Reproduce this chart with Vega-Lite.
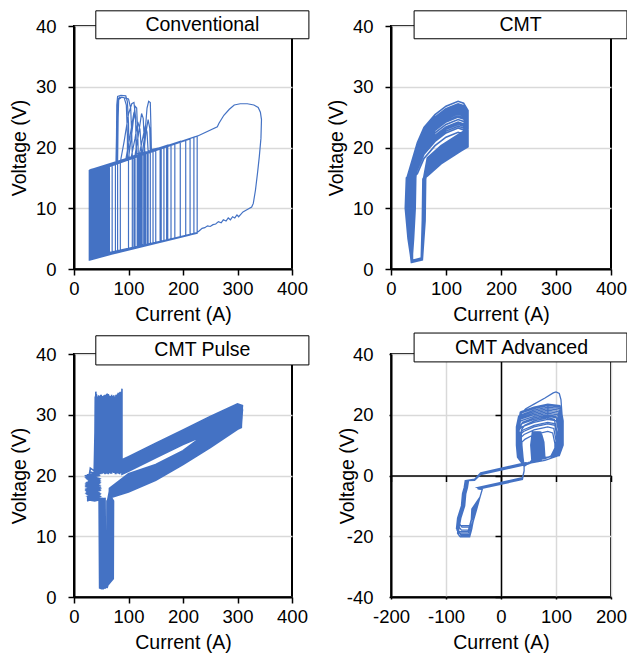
{
"$schema": "https://vega.github.io/schema/vega-lite/v6.json",
"background": "white",
"padding": {"left": 8, "top": 9, "right": 0, "bottom": 0},
"config": {
  "view": {"stroke": "black", "strokeWidth": 2},
  "axis": {"labelFont": "Liberation Sans", "labelFontSize": 18.5, "labelColor": "black", "titleFont": "Liberation Sans", "titleFontSize": 19.5, "titleFontWeight": "normal", "titleColor": "black", "domainColor": "black", "domainWidth": 2, "tickColor": "black", "tickWidth": 1.5, "tickSize": 6, "gridColor": "#d9d9d9", "gridWidth": 1.5, "labelFlush": false},
  "axisX": {"labelPadding": 4.5, "titlePadding": 7},
  "axisY": {"labelPadding": 12, "titlePadding": 6}
},
"datasets": {
"conventional": [
{"I":30,"V":1.8},{"I":30,"V":16.0},{"I":36,"V":16.2},{"I":36,"V":1.9},
{"I":28,"V":1.6},{"I":28,"V":15.9},{"I":33,"V":16.0},{"I":33,"V":1.7},
{"I":30,"V":1.7},{"I":30,"V":16.0},{"I":34,"V":16.1},{"I":34,"V":1.8},
{"I":30,"V":2.1},{"I":30,"V":16.3},{"I":35,"V":16.4},{"I":35,"V":1.8},
{"I":29,"V":1.6},{"I":29,"V":15.8},{"I":40,"V":16.1},{"I":40,"V":2.0},
{"I":29,"V":1.5},{"I":29,"V":15.6},{"I":37,"V":15.9},{"I":37,"V":1.9},
{"I":29,"V":1.9},{"I":29,"V":15.9},{"I":38,"V":16.0},{"I":38,"V":1.9},
{"I":31,"V":1.8},{"I":31,"V":16.0},{"I":39,"V":16.2},{"I":39,"V":2.0},
{"I":31,"V":2.0},{"I":31,"V":16.2},{"I":43,"V":16.4},{"I":43,"V":2.1},
{"I":28,"V":2.0},{"I":28,"V":16.2},{"I":42,"V":16.5},{"I":42,"V":2.1},
{"I":31,"V":1.6},{"I":31,"V":16.2},{"I":41,"V":16.4},{"I":41,"V":2.0},
{"I":30,"V":1.6},{"I":30,"V":15.7},{"I":44,"V":16.1},{"I":44,"V":2.1},
{"I":28,"V":1.5},{"I":28,"V":15.7},{"I":46,"V":16.3},{"I":46,"V":2.1},
{"I":30,"V":2.0},{"I":30,"V":15.8},{"I":45,"V":16.2},{"I":45,"V":2.1},
{"I":29,"V":1.8},{"I":29,"V":16.1},{"I":47,"V":16.6},{"I":47,"V":2.2},
{"I":30,"V":1.8},{"I":30,"V":16.1},{"I":77,"V":17.4},{"I":78,"V":22},{"I":78.5,"V":27},{"I":80,"V":28.4},{"I":86,"V":28.6},{"I":95,"V":28.5},{"I":98,"V":27.5},{"I":100,"V":24},{"I":101,"V":18.2},{"I":118,"V":18.7},{"I":118,"V":3.7},
{"I":30,"V":1.9},{"I":30,"V":16.3},{"I":49,"V":16.7},{"I":49,"V":2.2},
{"I":31,"V":1.5},{"I":31,"V":15.9},{"I":50,"V":16.5},{"I":50,"V":2.2},
{"I":28,"V":1.8},{"I":28,"V":16.0},{"I":48,"V":16.5},{"I":48,"V":2.2},
{"I":29,"V":1.7},{"I":29,"V":15.9},{"I":52,"V":16.5},{"I":52,"V":2.3},
{"I":28,"V":1.9},{"I":28,"V":16.0},{"I":53,"V":16.7},{"I":53,"V":2.3},
{"I":30,"V":1.5},{"I":30,"V":16.3},{"I":51,"V":16.8},{"I":51,"V":2.2},
{"I":32,"V":2.1},{"I":32,"V":16.1},{"I":55,"V":16.8},{"I":55,"V":2.3},
{"I":29,"V":1.7},{"I":29,"V":15.7},{"I":54,"V":16.4},{"I":54,"V":2.3},
{"I":30,"V":1.7},{"I":30,"V":16.2},{"I":56,"V":16.9},{"I":56,"V":2.4},
{"I":30,"V":1.6},{"I":30,"V":16.0},{"I":58,"V":16.9},{"I":58,"V":2.4},
{"I":31,"V":1.9},{"I":31,"V":16.1},{"I":57,"V":16.9},{"I":57,"V":2.4},
{"I":29,"V":2.0},{"I":29,"V":15.8},{"I":59,"V":16.7},{"I":59,"V":2.4},
{"I":28,"V":1.8},{"I":28,"V":15.6},{"I":61,"V":16.6},{"I":61,"V":2.5},
{"I":32,"V":1.6},{"I":32,"V":16.1},{"I":63,"V":17.0},{"I":63,"V":2.5},
{"I":29,"V":1.7},{"I":29,"V":15.9},{"I":80,"V":17.4},{"I":81,"V":25},{"I":82,"V":27.9},{"I":88,"V":28.3},{"I":100,"V":28.0},{"I":104,"V":26.5},{"I":106,"V":22},{"I":107,"V":18.4},{"I":125,"V":18.9},{"I":125,"V":3.8},
{"I":31,"V":1.7},{"I":31,"V":16.4},{"I":65,"V":17.2},{"I":65,"V":2.5},
{"I":29,"V":2.0},{"I":29,"V":15.9},{"I":70,"V":17.1},{"I":70,"V":2.6},
{"I":31,"V":2.0},{"I":31,"V":16.0},{"I":85,"V":17.6},{"I":92,"V":21},{"I":100,"V":25.5},{"I":106,"V":27.2},{"I":110,"V":27.4},{"I":113,"V":25},{"I":114,"V":20},{"I":114,"V":18.6},{"I":130,"V":19.1},{"I":130,"V":3.9},
{"I":30,"V":1.5},{"I":30,"V":16.2},{"I":76,"V":17.5},{"I":76,"V":2.8},
{"I":33,"V":1.9},{"I":33,"V":16.0},{"I":80,"V":17.4},{"I":80,"V":2.9},
{"I":30,"V":1.6},{"I":30,"V":16.2},{"I":95,"V":18.0},{"I":103,"V":22},{"I":110,"V":25.8},{"I":113,"V":24.5},{"I":115,"V":19},{"I":135,"V":19.3},{"I":135,"V":4.0},
{"I":29,"V":1.6},{"I":29,"V":15.8},{"I":85,"V":17.6},{"I":85,"V":3.0},
{"I":30,"V":1.8},{"I":30,"V":16.1},{"I":100,"V":18.2},{"I":100,"V":3.3},
{"I":28,"V":1.9},{"I":28,"V":15.8},{"I":125,"V":19.0},{"I":130,"V":22},{"I":134,"V":26.5},{"I":137,"V":27.6},{"I":140,"V":27.4},{"I":141,"V":24},{"I":142,"V":19.5},{"I":150,"V":19.7},{"I":150,"V":4.3},
{"I":28,"V":1.7},{"I":28,"V":15.9},{"I":107,"V":18.4},{"I":107,"V":3.4},
{"I":31,"V":2.2},{"I":31,"V":16.3},{"I":112,"V":18.6},{"I":112,"V":3.5},
{"I":30,"V":1.7},{"I":30,"V":16.0},{"I":112,"V":18.7},{"I":118,"V":22},{"I":124,"V":25.6},{"I":127,"V":24.8},{"I":129,"V":21},{"I":130,"V":19.0},{"I":145,"V":19.5},{"I":145,"V":4.2},
{"I":30,"V":1.6},{"I":30,"V":16.0},{"I":116,"V":18.5},{"I":116,"V":3.6},
{"I":29,"V":1.9},{"I":29,"V":15.7},{"I":120,"V":18.8},{"I":120,"V":3.7},
{"I":31,"V":1.8},{"I":31,"V":16.1},{"I":100,"V":18.2},{"I":107,"V":23},{"I":112,"V":26.8},{"I":115,"V":26.5},{"I":117,"V":22},{"I":118,"V":18.8},{"I":122,"V":18.9},{"I":122,"V":3.7},
{"I":32,"V":1.8},{"I":32,"V":16.2},{"I":124,"V":18.9},{"I":124,"V":3.8},
{"I":30,"V":1.5},{"I":30,"V":16.0},{"I":128,"V":19.0},{"I":128,"V":3.9},
{"I":29,"V":1.6},{"I":29,"V":15.9},{"I":120,"V":18.9},{"I":126,"V":21.5},{"I":131,"V":23.6},{"I":134,"V":22.5},{"I":136,"V":19.4},{"I":160,"V":19.9},{"I":160,"V":4.5},
{"I":28,"V":2.0},{"I":28,"V":15.8},{"I":132,"V":19.1},{"I":132,"V":4.0},
{"I":31,"V":1.7},{"I":31,"V":16.1},{"I":136,"V":19.3},{"I":136,"V":4.0},
{"I":30,"V":1.9},{"I":30,"V":16.2},{"I":105,"V":18.4},{"I":112,"V":21.5},{"I":117,"V":24.2},{"I":121,"V":23.0},{"I":124,"V":19.2},{"I":128,"V":19.0},{"I":128,"V":3.9},
{"I":30,"V":1.8},{"I":30,"V":15.9},{"I":140,"V":19.3},{"I":140,"V":4.1},
{"I":29,"V":1.6},{"I":29,"V":16.3},{"I":150,"V":19.7},{"I":150,"V":4.3},
{"I":30,"V":1.8},{"I":30,"V":16.0},{"I":128,"V":19.0},{"I":132,"V":22.5},{"I":136,"V":24.6},{"I":139,"V":23.2},{"I":140,"V":19.6},{"I":170,"V":20.2},{"I":170,"V":4.7},
{"I":30,"V":2.1},{"I":30,"V":16.0},{"I":158,"V":19.9},{"I":158,"V":4.5},
{"I":32,"V":1.7},{"I":32,"V":15.8},{"I":165,"V":20.0},{"I":165,"V":4.6},
{"I":29,"V":1.7},{"I":29,"V":15.8},{"I":79,"V":17.5},{"I":80,"V":24},{"I":81,"V":28.0},{"I":84,"V":28.3},{"I":92,"V":28.2},{"I":96,"V":27},{"I":98,"V":22},{"I":98,"V":18.1},{"I":110,"V":18.5},{"I":110,"V":3.4},
{"I":29,"V":1.9},{"I":29,"V":16.2},{"I":172,"V":20.4},{"I":172,"V":4.8},
{"I":30,"V":1.6},{"I":30,"V":16.0},{"I":178,"V":20.5},{"I":178,"V":4.9},
{"I":30,"V":1.8},{"I":30,"V":16.0},{"I":227,"V":21.9},{"I":263,"V":23.4},{"I":266,"V":24.0},{"I":275,"V":25.3},{"I":285,"V":26.3},{"I":294,"V":27.0},{"I":305,"V":27.2},{"I":318,"V":27.2},{"I":330,"V":27.0},{"I":338,"V":26.6},{"I":342,"V":25.8},{"I":344,"V":24.6},{"I":343,"V":21.5},{"I":340,"V":18.5},{"I":337,"V":16},{"I":333,"V":13},{"I":329,"V":10.8},{"I":326,"V":10.2},{"I":318,"V":9.8},{"I":310,"V":9.4},{"I":306,"V":9.0},{"I":302,"V":8.6},{"I":299,"V":8.9},{"I":295,"V":8.4},{"I":291,"V":8.6},{"I":287,"V":8.1},{"I":283,"V":8.4},{"I":279,"V":7.9},{"I":274,"V":8.1},{"I":270,"V":7.6},{"I":265,"V":7.8},{"I":260,"V":7.4},{"I":255,"V":7.3},{"I":250,"V":7.0},{"I":245,"V":7.1},{"I":240,"V":6.8},{"I":235,"V":6.7},{"I":230,"V":6.3},{"I":226,"V":6.0},
{"I":31,"V":1.8},{"I":31,"V":15.9},{"I":185,"V":20.6},{"I":185,"V":5.1},
{"I":28,"V":2.0},{"I":28,"V":16.1},{"I":195,"V":21.0},{"I":195,"V":5.3},
{"I":30,"V":1.7},{"I":30,"V":16.2},{"I":205,"V":21.2},{"I":205,"V":5.5},
{"I":29,"V":1.8},{"I":29,"V":15.8},{"I":213,"V":21.4},{"I":213,"V":5.6},
{"I":31,"V":1.6},{"I":31,"V":16.0},{"I":220,"V":21.7},{"I":220,"V":5.8},
{"I":30,"V":1.9},{"I":30,"V":16.1},{"I":226,"V":21.9},{"I":226,"V":5.9},
{"I":30,"V":1.8}
],
"cmt": [
{"I":38,"V":1.2},{"I":55,"V":1.6},{"I":57,"V":8},{"I":58,"V":14.8},{"I":66,"V":15.3},{"I":91,"V":17.3},{"I":127,"V":19.4},{"I":140,"V":20.1},{"I":140,"V":22.5},{"I":132,"V":23.7},{"I":122,"V":24.0},{"I":100,"V":23.2},{"I":80,"V":21.8},{"I":60,"V":19.7},{"I":48,"V":17.2},{"I":32,"V":15},{"I":30,"V":10},{"I":34,"V":5},
{"I":37,"V":1.1},{"I":56,"V":1.5},{"I":58,"V":8},{"I":59,"V":14.8},{"I":66,"V":15.6},{"I":91,"V":17.6},{"I":127,"V":19.7},{"I":140,"V":20.4},{"I":140,"V":26.1},{"I":132,"V":27.3},{"I":122,"V":27.6},{"I":100,"V":26.8},{"I":80,"V":25.4},{"I":60,"V":23.3},{"I":48,"V":20.8},{"I":29,"V":15},{"I":27,"V":10},{"I":32,"V":5},
{"I":39,"V":1.3},{"I":57,"V":1.7},{"I":59,"V":8},{"I":60,"V":14.8},{"I":66,"V":15.9},{"I":91,"V":17.9},{"I":127,"V":20.0},{"I":140,"V":20.7},{"I":140,"V":24.0},{"I":132,"V":25.2},{"I":122,"V":25.5},{"I":100,"V":24.7},{"I":80,"V":23.3},{"I":60,"V":21.2},{"I":48,"V":18.7},{"I":35,"V":15},{"I":33,"V":10},{"I":36,"V":5},
{"I":38,"V":1.4},{"I":55,"V":1.8},{"I":60,"V":8},{"I":61,"V":14.8},{"I":66,"V":16.3},{"I":91,"V":18.3},{"I":127,"V":20.4},{"I":140,"V":21.1},{"I":140,"V":25.3},{"I":132,"V":26.5},{"I":122,"V":26.8},{"I":100,"V":26.0},{"I":80,"V":24.6},{"I":60,"V":22.5},{"I":48,"V":20.0},{"I":38,"V":15},{"I":36,"V":10},{"I":37,"V":5},
{"I":37,"V":1.2},{"I":56,"V":1.6},{"I":61,"V":8},{"I":62,"V":14.8},{"I":66,"V":16.6},{"I":91,"V":18.6},{"I":127,"V":20.7},{"I":140,"V":21.4},{"I":140,"V":22.0},{"I":132,"V":22.9},{"I":122,"V":23.2},{"I":100,"V":22.4},{"I":80,"V":21.0},{"I":60,"V":18.9},{"I":48,"V":16.4},{"I":41,"V":15},{"I":39,"V":10},{"I":38,"V":5},
{"I":39,"V":1.1},{"I":57,"V":1.5},{"I":62,"V":8},{"I":63,"V":14.8},{"I":66,"V":16.9},{"I":91,"V":18.9},{"I":127,"V":21.0},{"I":140,"V":21.7},{"I":140,"V":24.5},{"I":132,"V":25.7},{"I":122,"V":26.0},{"I":100,"V":25.2},{"I":80,"V":23.8},{"I":60,"V":21.7},{"I":48,"V":19.2},{"I":44,"V":15},{"I":42,"V":10},{"I":40,"V":5},
{"I":38,"V":1.3},{"I":55,"V":1.7},{"I":58,"V":8},{"I":59,"V":14.8},{"I":66,"V":17.3},{"I":91,"V":19.3},{"I":127,"V":21.4},{"I":140,"V":22.1},{"I":140,"V":25.7},{"I":132,"V":26.9},{"I":122,"V":27.2},{"I":100,"V":26.4},{"I":80,"V":25.0},{"I":60,"V":22.9},{"I":48,"V":20.4},{"I":31,"V":15},{"I":29,"V":10},{"I":33,"V":5},
{"I":37,"V":1.4},{"I":56,"V":1.8},{"I":60,"V":8},{"I":61,"V":14.8},{"I":66,"V":17.6},{"I":91,"V":19.6},{"I":127,"V":21.7},{"I":140,"V":22.4},{"I":140,"V":23.5},{"I":132,"V":24.7},{"I":122,"V":25.0},{"I":100,"V":24.2},{"I":80,"V":22.8},{"I":60,"V":20.7},{"I":48,"V":18.2},{"I":33,"V":15},{"I":31,"V":10},{"I":35,"V":5},
{"I":39,"V":1.2},{"I":57,"V":1.6},{"I":59,"V":8},{"I":60,"V":14.8},{"I":66,"V":15.5},{"I":91,"V":17.5},{"I":127,"V":19.6},{"I":140,"V":20.3},{"I":140,"V":22.3},{"I":132,"V":23.5},{"I":122,"V":23.8},{"I":100,"V":23.0},{"I":80,"V":21.6},{"I":60,"V":19.5},{"I":48,"V":17.0},{"I":37,"V":15},{"I":35,"V":10},{"I":37,"V":5},
{"I":38,"V":1.1},{"I":55,"V":1.5},{"I":61,"V":8},{"I":62,"V":14.8},{"I":66,"V":16.1},{"I":91,"V":18.1},{"I":127,"V":20.2},{"I":140,"V":20.9},{"I":140,"V":24.9},{"I":132,"V":26.1},{"I":122,"V":26.4},{"I":100,"V":25.6},{"I":80,"V":24.2},{"I":60,"V":22.1},{"I":48,"V":19.6},{"I":40,"V":15},{"I":38,"V":10},{"I":38,"V":5},
{"I":37,"V":1.3},{"I":56,"V":1.7},{"I":57,"V":8},{"I":58,"V":14.8},{"I":66,"V":16.4},{"I":91,"V":18.4},{"I":127,"V":20.5},{"I":140,"V":21.2},{"I":140,"V":23.1},{"I":132,"V":24.3},{"I":122,"V":24.6},{"I":100,"V":23.8},{"I":80,"V":22.4},{"I":60,"V":20.3},{"I":48,"V":17.8},{"I":43,"V":15},{"I":41,"V":10},{"I":39,"V":5},
{"I":39,"V":1.4},{"I":57,"V":1.8},{"I":62,"V":8},{"I":63,"V":14.8},{"I":66,"V":17.1},{"I":91,"V":19.1},{"I":127,"V":21.2},{"I":140,"V":21.9},{"I":140,"V":24.3},{"I":132,"V":25.5},{"I":122,"V":25.8},{"I":100,"V":25.0},{"I":80,"V":23.6},{"I":60,"V":21.5},{"I":48,"V":19.0},{"I":45,"V":15},{"I":44,"V":10},{"I":41,"V":5},
{"I":38,"V":1.2},{"I":55,"V":1.6},{"I":60,"V":8},{"I":61,"V":14.8},{"I":66,"V":17.9},{"I":91,"V":19.9},{"I":127,"V":22.0},{"I":140,"V":22.7},{"I":140,"V":25.5},{"I":132,"V":26.7},{"I":122,"V":27.0},{"I":100,"V":26.2},{"I":80,"V":24.8},{"I":60,"V":22.7},{"I":48,"V":20.2},{"I":30,"V":15},{"I":28,"V":10},{"I":32,"V":5},
{"I":37,"V":1.1},{"I":56,"V":1.5},{"I":58,"V":8},{"I":59,"V":14.8},{"I":66,"V":18.3},{"I":91,"V":20.3},{"I":127,"V":22.4},{"I":140,"V":23.1},{"I":140,"V":25.1},{"I":132,"V":26.3},{"I":122,"V":26.6},{"I":100,"V":25.8},{"I":80,"V":24.4},{"I":60,"V":22.3},{"I":48,"V":19.8},{"I":34,"V":15},{"I":32,"V":10},{"I":35,"V":5},
{"I":39,"V":1.3},{"I":57,"V":1.7},{"I":59,"V":8},{"I":60,"V":14.8},{"I":66,"V":15.7},{"I":91,"V":17.7},{"I":127,"V":19.8},{"I":140,"V":20.5},{"I":140,"V":21.1},{"I":132,"V":22.2},{"I":122,"V":22.5},{"I":100,"V":21.7},{"I":80,"V":20.3},{"I":60,"V":18.2},{"I":48,"V":15.7},{"I":36,"V":14.5},{"I":34,"V":10},{"I":36,"V":5},
{"I":38,"V":1.4},{"I":55,"V":1.8},{"I":61,"V":8},{"I":62,"V":14.8},{"I":66,"V":16.8},{"I":91,"V":18.8},{"I":127,"V":20.9},{"I":140,"V":21.6},{"I":140,"V":22.7},{"I":132,"V":23.9},{"I":122,"V":24.2},{"I":100,"V":23.4},{"I":80,"V":22.0},{"I":60,"V":19.9},{"I":48,"V":17.4},{"I":39,"V":15},{"I":37,"V":10},{"I":37,"V":5},
{"I":37,"V":1.2},{"I":56,"V":1.6},{"I":60,"V":8},{"I":61,"V":14.8},{"I":66,"V":17.5},{"I":91,"V":19.5},{"I":127,"V":21.6},{"I":140,"V":22.3},{"I":140,"V":24.7},{"I":132,"V":25.9},{"I":122,"V":26.2},{"I":100,"V":25.4},{"I":80,"V":24.0},{"I":60,"V":21.9},{"I":48,"V":19.4},{"I":42,"V":15},{"I":40,"V":10},{"I":39,"V":5},
{"I":39,"V":1.1},{"I":57,"V":1.5},{"I":58,"V":8},{"I":59,"V":14.8},{"I":66,"V":15.4},{"I":91,"V":17.4},{"I":127,"V":19.5},{"I":140,"V":20.2},{"I":140,"V":23.7},{"I":132,"V":24.9},{"I":122,"V":25.2},{"I":100,"V":24.4},{"I":80,"V":23.0},{"I":60,"V":20.9},{"I":48,"V":18.4},{"I":45,"V":15},{"I":43,"V":10},{"I":40,"V":5},
{"I":38,"V":1.3},{"I":55,"V":1.7},{"I":62,"V":8},{"I":63,"V":14.8},{"I":66,"V":16.2},{"I":91,"V":18.2},{"I":127,"V":20.3},{"I":140,"V":21.0},{"I":140,"V":22.0},{"I":132,"V":23.2},{"I":122,"V":23.5},{"I":100,"V":22.7},{"I":80,"V":21.3},{"I":60,"V":19.2},{"I":48,"V":16.7},{"I":28,"V":15},{"I":26,"V":10},{"I":31,"V":5},
{"I":37,"V":1.4},{"I":56,"V":1.8},{"I":59,"V":8},{"I":60,"V":14.8},{"I":66,"V":18.1},{"I":91,"V":20.1},{"I":127,"V":22.2},{"I":140,"V":22.9},{"I":140,"V":24.1},{"I":132,"V":25.3},{"I":122,"V":25.6},{"I":100,"V":24.8},{"I":80,"V":23.4},{"I":60,"V":21.3},{"I":48,"V":18.8},{"I":32,"V":15},{"I":30,"V":10},{"I":34,"V":5},
{"I":38,"V":1.2}
],
"pulse": [
{"I":47,"V":16.2},{"I":48,"V":1.6},{"I":51,"V":1.5},{"I":66,"V":2.8},{"I":66.5,"V":15.8},{"I":65,"V":16.3},{"I":100,"V":17.3},{"I":150,"V":19.2},{"I":200,"V":21.8},{"I":250,"V":24.6},{"I":300,"V":27.6},{"I":307,"V":27.9},{"I":308,"V":30.5},{"I":300,"V":30.78},{"I":250,"V":28.45},{"I":200,"V":26.39},{"I":150,"V":24.19},{"I":100,"V":21.99},{"I":88,"V":21.5},
{"I":86,"V":33.5},{"I":83,"V":20.5},{"I":79,"V":32.6},{"I":75,"V":20.8},{"I":71,"V":33.1},{"I":67,"V":20.3},{"I":62,"V":32.4},{"I":58,"V":20.9},{"I":53,"V":33.0},{"I":49,"V":20.4},{"I":44,"V":32.7},{"I":40,"V":20.6},
{"I":44,"V":20.3},{"I":26,"V":19.8},{"I":45,"V":19.2},{"I":24,"V":18.6},{"I":46,"V":18.0},{"I":25,"V":17.4},{"I":44,"V":16.8},{"I":24,"V":16.2},{"I":40,"V":16.1},
{"I":49,"V":16.2},{"I":50,"V":1.6},{"I":53,"V":1.5},{"I":70,"V":2.8},{"I":70.5,"V":15.8},{"I":65,"V":17.1},{"I":100,"V":18.91},{"I":150,"V":20.6},{"I":200,"V":23.04},{"I":250,"V":26.11},{"I":300,"V":28.78},{"I":307,"V":29.1},{"I":308,"V":29.4},{"I":300,"V":29.6},{"I":250,"V":27.0},{"I":200,"V":25.1},{"I":150,"V":22.9},{"I":100,"V":20.7},{"I":88,"V":20.2},
{"I":84,"V":32.6},{"I":81,"V":21.0},{"I":77,"V":33.3},{"I":73,"V":20.4},{"I":68,"V":32.5},{"I":64,"V":20.7},{"I":60,"V":33.4},{"I":56,"V":20.3},{"I":51,"V":32.6},{"I":47,"V":20.9},{"I":42,"V":33.0},{"I":38,"V":20.2},
{"I":45,"V":20.1},{"I":25,"V":19.5},{"I":44,"V":18.9},{"I":26,"V":18.3},{"I":45,"V":17.7},{"I":24,"V":17.1},{"I":46,"V":16.5},{"I":25,"V":16.0},{"I":38,"V":15.9},
{"I":51,"V":16.2},{"I":52,"V":1.6},{"I":55,"V":1.5},{"I":62,"V":2.8},{"I":62.5,"V":15.8},{"I":65,"V":16.7},{"I":100,"V":17.99},{"I":150,"V":19.8},{"I":200,"V":22.33},{"I":250,"V":25.25},{"I":300,"V":28.11},{"I":307,"V":28.4},{"I":308,"V":31.3},{"I":300,"V":31.46},{"I":250,"V":29.28},{"I":200,"V":27.13},{"I":150,"V":24.93},{"I":100,"V":22.73},{"I":88,"V":22.2},
{"I":88,"V":34.3},{"I":85,"V":20.8},{"I":80,"V":32.0},{"I":76,"V":20.3},{"I":72,"V":32.9},{"I":68,"V":20.6},{"I":63,"V":32.2},{"I":59,"V":20.4},{"I":55,"V":33.2},{"I":50,"V":20.7},{"I":46,"V":32.5},{"I":41,"V":20.5},
{"I":43,"V":20.4},{"I":30,"V":21.2},{"I":27,"V":19.0},{"I":46,"V":18.4},{"I":24,"V":17.8},{"I":44,"V":17.2},{"I":26,"V":16.6},{"I":45,"V":16.2},{"I":42,"V":16.3},
{"I":53,"V":16.2},{"I":54,"V":1.6},{"I":57,"V":1.5},{"I":68,"V":2.8},{"I":68.5,"V":15.8},{"I":65,"V":17.5},{"I":100,"V":19.61},{"I":150,"V":21.2},{"I":200,"V":23.57},{"I":250,"V":26.75},{"I":300,"V":29.29},{"I":307,"V":29.6},{"I":308,"V":30.1},{"I":300,"V":30.28},{"I":250,"V":27.83},{"I":200,"V":25.84},{"I":150,"V":23.64},{"I":100,"V":21.44},{"I":88,"V":20.9},
{"I":83,"V":33.0},{"I":80,"V":20.6},{"I":76,"V":32.4},{"I":72,"V":21.0},{"I":67,"V":33.1},{"I":63,"V":20.2},{"I":58,"V":32.8},{"I":54,"V":20.8},{"I":49,"V":33.3},{"I":45,"V":20.3},{"I":40,"V":32.9},{"I":37,"V":20.6},
{"I":46,"V":20.0},{"I":24,"V":19.6},{"I":44,"V":19.0},{"I":25,"V":18.4},{"I":47,"V":17.8},{"I":26,"V":17.2},{"I":45,"V":16.6},{"I":24,"V":15.8},{"I":37,"V":16.4},
{"I":55,"V":16.2},{"I":56,"V":1.6},{"I":59,"V":1.6},{"I":72,"V":3.0},{"I":72.5,"V":15.8},{"I":65,"V":16.9},{"I":100,"V":18.45},{"I":150,"V":20.2},{"I":200,"V":22.69},{"I":250,"V":25.68},{"I":300,"V":28.45},{"I":307,"V":28.8},{"I":309,"V":31.5},{"I":300,"V":31.8},{"I":250,"V":29.7},{"I":200,"V":27.5},{"I":150,"V":25.3},{"I":100,"V":23.1},{"I":88,"V":22.6},
{"I":87,"V":32.2},{"I":84,"V":20.2},{"I":80,"V":33.4},{"I":76,"V":20.7},{"I":71,"V":32.2},{"I":67,"V":20.9},{"I":63,"V":33.0},{"I":59,"V":20.5},{"I":54,"V":32.4},{"I":50,"V":20.8},{"I":45,"V":33.2},{"I":41,"V":20.3},
{"I":44,"V":20.5},{"I":27,"V":19.9},{"I":45,"V":19.3},{"I":24,"V":18.7},{"I":44,"V":18.1},{"I":25,"V":17.5},{"I":46,"V":16.9},{"I":24,"V":16.3},{"I":41,"V":16.0},
{"I":48,"V":16.2},{"I":49,"V":1.5},{"I":52,"V":1.4},{"I":64,"V":2.7},{"I":64.5,"V":15.8},{"I":65,"V":17.7},{"I":100,"V":20.07},{"I":150,"V":21.6},{"I":200,"V":23.92},{"I":250,"V":27.18},{"I":300,"V":29.63},{"I":306,"V":29.8},{"I":307,"V":29.9},{"I":300,"V":29.94},{"I":250,"V":27.42},{"I":200,"V":25.47},{"I":150,"V":23.27},{"I":100,"V":21.07},{"I":88,"V":20.6},
{"I":85,"V":33.8},{"I":82,"V":20.9},{"I":78,"V":32.6},{"I":74,"V":20.5},{"I":69,"V":33.3},{"I":65,"V":20.4},{"I":61,"V":32.7},{"I":57,"V":20.8},{"I":52,"V":33.0},{"I":48,"V":20.2},{"I":43,"V":32.6},{"I":39,"V":20.7},
{"I":45,"V":20.2},{"I":25,"V":19.7},{"I":46,"V":19.1},{"I":24,"V":18.5},{"I":45,"V":17.9},{"I":26,"V":17.3},{"I":44,"V":16.7},{"I":24,"V":16.1},{"I":39,"V":16.2},
{"I":50,"V":16.2},{"I":51,"V":1.6},{"I":54,"V":1.5},{"I":60,"V":2.6},{"I":60.5,"V":15.8},{"I":65,"V":16.4},{"I":100,"V":17.53},{"I":150,"V":19.4},{"I":200,"V":21.98},{"I":250,"V":24.82},{"I":300,"V":27.77},{"I":307,"V":28.1},{"I":309,"V":30.9},{"I":300,"V":31.12},{"I":250,"V":28.87},{"I":200,"V":26.76},{"I":150,"V":24.56},{"I":100,"V":22.36},{"I":88,"V":21.9},
{"I":82,"V":32.4},{"I":79,"V":20.4},{"I":75,"V":33.0},{"I":71,"V":20.8},{"I":66,"V":32.7},{"I":62,"V":20.3},{"I":57,"V":33.3},{"I":53,"V":20.6},{"I":48,"V":32.5},{"I":44,"V":20.9},{"I":40,"V":33.6},{"I":37,"V":20.4},
{"I":43,"V":20.0},{"I":26,"V":19.4},{"I":45,"V":18.8},{"I":24,"V":18.2},{"I":46,"V":17.6},{"I":25,"V":17.0},{"I":44,"V":16.4},{"I":26,"V":15.9},{"I":36,"V":16.5},
{"I":52,"V":16.2},{"I":53,"V":1.6},{"I":56,"V":1.5},{"I":71,"V":2.9},{"I":71.5,"V":15.8},{"I":65,"V":17.3},{"I":100,"V":19.15},{"I":150,"V":20.8},{"I":200,"V":23.21},{"I":250,"V":26.32},{"I":300,"V":28.95},{"I":307,"V":29.2},{"I":308,"V":29.6},{"I":300,"V":29.77},{"I":250,"V":27.21},{"I":200,"V":25.28},{"I":150,"V":23.08},{"I":100,"V":20.88},{"I":88,"V":20.4},
{"I":88,"V":32.9},{"I":85,"V":20.7},{"I":81,"V":33.6},{"I":77,"V":20.2},{"I":73,"V":32.4},{"I":69,"V":20.8},{"I":64,"V":33.2},{"I":60,"V":20.5},{"I":56,"V":32.8},{"I":52,"V":20.3},{"I":47,"V":33.1},{"I":43,"V":20.8},
{"I":46,"V":20.4},{"I":24,"V":20.0},{"I":44,"V":19.4},{"I":25,"V":18.8},{"I":45,"V":18.2},{"I":24,"V":17.6},{"I":46,"V":17.0},{"I":25,"V":16.5},{"I":43,"V":16.1},
{"I":54,"V":16.2},{"I":55,"V":1.6},{"I":58,"V":1.5},{"I":67,"V":2.8},{"I":67.5,"V":15.8},{"I":65,"V":17.9},{"I":100,"V":20.3},{"I":150,"V":21.8},{"I":200,"V":24.1},{"I":250,"V":27.4},{"I":300,"V":29.8},{"I":307,"V":30.1},{"I":309,"V":31.4},{"I":300,"V":31.63},{"I":250,"V":29.49},{"I":200,"V":27.32},{"I":150,"V":25.12},{"I":100,"V":22.92},{"I":88,"V":22.4},
{"I":86,"V":33.2},{"I":83,"V":20.6},{"I":79,"V":32.3},{"I":75,"V":20.4},{"I":70,"V":32.9},{"I":66,"V":20.7},{"I":61,"V":33.5},{"I":57,"V":20.2},{"I":52,"V":32.6},{"I":48,"V":20.6},{"I":40,"V":33.8},{"I":39,"V":20.0},
{"I":44,"V":20.1},{"I":25,"V":19.5},{"I":46,"V":18.9},{"I":24,"V":18.3},{"I":44,"V":17.7},{"I":26,"V":17.1},{"I":45,"V":16.5},{"I":25,"V":16.0},{"I":38,"V":15.8},
{"I":56,"V":16.2},{"I":57,"V":1.7},{"I":60,"V":1.6},{"I":63,"V":2.7},{"I":63.5,"V":15.8},{"I":65,"V":16.8},{"I":100,"V":18.22},{"I":150,"V":20.0},{"I":200,"V":22.51},{"I":250,"V":25.46},{"I":300,"V":28.28},{"I":307,"V":28.6},{"I":308,"V":30.2},{"I":300,"V":30.45},{"I":250,"V":28.04},{"I":200,"V":26.02},{"I":150,"V":23.82},{"I":100,"V":21.62},{"I":88,"V":21.1},
{"I":84,"V":33.7},{"I":81,"V":20.3},{"I":77,"V":33.1},{"I":73,"V":20.9},{"I":68,"V":33.0},{"I":64,"V":20.5},{"I":59,"V":32.5},{"I":55,"V":20.9},{"I":50,"V":33.3},{"I":46,"V":20.4},{"I":42,"V":32.8},{"I":38,"V":20.7},
{"I":45,"V":20.3},{"I":24,"V":19.9},{"I":45,"V":19.3},{"I":26,"V":18.7},{"I":46,"V":18.1},{"I":24,"V":17.5},{"I":44,"V":16.9},{"I":24,"V":16.4},{"I":40,"V":16.3},
{"I":46,"V":16.2},{"I":47,"V":1.5},{"I":50,"V":1.4},{"I":69,"V":2.9},{"I":69.5,"V":15.8},{"I":65,"V":17.6},{"I":100,"V":19.84},{"I":150,"V":21.4},{"I":200,"V":23.75},{"I":250,"V":26.97},{"I":300,"V":29.46},{"I":307,"V":29.8},{"I":308,"V":31.1},{"I":300,"V":31.29},{"I":250,"V":29.08},{"I":200,"V":26.95},{"I":150,"V":24.75},{"I":100,"V":22.55},{"I":88,"V":22.0},
{"I":87,"V":32.7},{"I":84,"V":20.5},{"I":80,"V":32.9},{"I":76,"V":20.2},{"I":72,"V":32.6},{"I":68,"V":20.7},{"I":63,"V":33.4},{"I":59,"V":20.3},{"I":54,"V":32.9},{"I":50,"V":20.5},{"I":45,"V":32.6},{"I":41,"V":20.8},
{"I":44,"V":20.0},{"I":26,"V":19.6},{"I":44,"V":19.0},{"I":24,"V":18.4},{"I":45,"V":17.8},{"I":25,"V":17.2},{"I":46,"V":16.6},{"I":24,"V":16.0},{"I":42,"V":16.2},
{"I":57,"V":16.2},{"I":58,"V":1.7},{"I":61,"V":1.6},{"I":65,"V":2.7},{"I":65.5,"V":15.8},{"I":65,"V":16.5},{"I":100,"V":17.76},{"I":150,"V":19.6},{"I":200,"V":22.15},{"I":250,"V":25.03},{"I":300,"V":27.94},{"I":307,"V":28.3},{"I":308,"V":29.9},{"I":300,"V":30.11},{"I":250,"V":27.62},{"I":200,"V":25.65},{"I":150,"V":23.45},{"I":100,"V":21.25},{"I":88,"V":20.7},
{"I":85,"V":32.3},{"I":82,"V":20.8},{"I":78,"V":33.3},{"I":74,"V":20.6},{"I":70,"V":32.8},{"I":66,"V":20.4},{"I":61,"V":32.4},{"I":57,"V":20.7},{"I":53,"V":33.1},{"I":49,"V":20.2},{"I":41,"V":33.4},{"I":40,"V":20.3},
{"I":46,"V":20.2},{"I":25,"V":19.8},{"I":45,"V":19.2},{"I":24,"V":18.6},{"I":44,"V":18.0},{"I":26,"V":17.4},{"I":45,"V":16.8},{"I":24,"V":16.2},{"I":37,"V":16.0},
{"I":50,"V":16.2},{"I":51,"V":1.5},{"I":54,"V":1.4},{"I":61,"V":2.6},{"I":61.5,"V":15.8},{"I":65,"V":17.4},{"I":100,"V":19.38},{"I":150,"V":21.0},{"I":200,"V":23.39},{"I":250,"V":26.54},{"I":300,"V":29.12},{"I":307,"V":29.4},{"I":309,"V":30.7},{"I":300,"V":30.95},{"I":250,"V":28.66},{"I":200,"V":26.58},{"I":150,"V":24.38},{"I":100,"V":22.18},{"I":88,"V":21.7},
{"I":88,"V":33.6},{"I":85,"V":20.4},{"I":81,"V":33.0},{"I":77,"V":20.7},{"I":73,"V":33.2},{"I":69,"V":20.3},{"I":65,"V":32.7},{"I":61,"V":20.6},{"I":56,"V":33.0},{"I":52,"V":20.8},{"I":47,"V":32.4},{"I":43,"V":20.5},
{"I":45,"V":20.4},{"I":24,"V":20.1},{"I":46,"V":19.5},{"I":25,"V":18.9},{"I":44,"V":18.3},{"I":24,"V":17.7},{"I":45,"V":17.1},{"I":26,"V":16.4},{"I":41,"V":16.4},
{"I":53,"V":16.2},{"I":54,"V":1.6},{"I":57,"V":1.5},{"I":70,"V":2.9},{"I":70.5,"V":15.8},{"I":65,"V":17.0},{"I":100,"V":18.69},{"I":150,"V":20.4},{"I":200,"V":22.86},{"I":250,"V":25.89},{"I":300,"V":28.62},{"I":307,"V":28.9},{"I":308,"V":30.4},{"I":300,"V":30.62},{"I":250,"V":28.25},{"I":200,"V":26.21},{"I":150,"V":24.01},{"I":100,"V":21.81},{"I":88,"V":21.3},
{"I":83,"V":32.8},{"I":80,"V":20.9},{"I":76,"V":32.5},{"I":72,"V":20.5},{"I":67,"V":33.0},{"I":63,"V":20.8},{"I":58,"V":32.6},{"I":54,"V":20.4},{"I":49,"V":33.2},{"I":45,"V":20.6},{"I":39,"V":33.0},{"I":38,"V":20.8},
{"I":43,"V":20.2},{"I":29,"V":20.6},{"I":26,"V":19.3},{"I":45,"V":18.7},{"I":24,"V":18.1},{"I":46,"V":17.5},{"I":25,"V":16.9},{"I":44,"V":16.3},{"I":39,"V":15.9}
],
"advanced": [
{"I":42,"V":3.2},{"I":31,"V":6},{"I":29,"V":10},{"I":29,"V":15},{"I":35,"V":19.5},{"I":60,"V":21.0},{"I":85,"V":22.0},{"I":106,"V":21.5},{"I":110,"V":17.5},{"I":110,"V":10},{"I":103,"V":6.5},{"I":68,"V":5.5},{"I":66,"V":11},{"I":62,"V":14.5},{"I":59,"V":10},{"I":61,"V":5},{"I":50,"V":4.0},
{"I":42,"V":3.4},{"I":33,"V":6},{"I":31,"V":10},{"I":31,"V":15},{"I":37,"V":17.0},{"I":60,"V":18.5},{"I":85,"V":19.5},{"I":102,"V":19.0},{"I":106,"V":15.0},{"I":106,"V":10},{"I":99,"V":6.5},{"I":72,"V":5.5},{"I":70,"V":11},{"I":66,"V":14.5},{"I":63,"V":10},{"I":65,"V":5},{"I":50,"V":4.2},
{"I":45,"V":3.9},{"I":-37,"V":0.6},{"I":-48,"V":-1.4},{"I":-62,"V":-1.7},{"I":-64,"V":-4},{"I":-67,"V":-6},{"I":-69,"V":-10},{"I":-76,"V":-14},{"I":-78,"V":-19.2},{"I":-74,"V":-20.2},{"I":-57,"V":-20.2},{"I":-54,"V":-18.2},{"I":-46,"V":-11},{"I":-38,"V":-7},{"I":-34,"V":-4.5},{"I":-43,"V":-4.3},{"I":39,"V":-1.0},{"I":42,"V":1.5},
{"I":42,"V":3.0},{"I":32,"V":6},{"I":30,"V":10},{"I":30,"V":15},{"I":36,"V":20.5},{"I":60,"V":22.0},{"I":85,"V":23.0},{"I":108,"V":22.5},{"I":112,"V":18.5},{"I":112,"V":10},{"I":105,"V":6.5},{"I":64,"V":5.5},{"I":62,"V":11},{"I":58,"V":14.5},{"I":55,"V":10},{"I":57,"V":5},{"I":50,"V":3.8},
{"I":42,"V":3.3},{"I":36,"V":6},{"I":34,"V":10},{"I":34,"V":14},{"I":40,"V":15.0},{"I":60,"V":16.5},{"I":85,"V":17.5},{"I":99,"V":17.0},{"I":103,"V":13.0},{"I":103,"V":10},{"I":96,"V":6.5},{"I":76,"V":5.5},{"I":74,"V":11},{"I":70,"V":14.5},{"I":67,"V":10},{"I":69,"V":5},{"I":50,"V":4.1},
{"I":45,"V":4.2},{"I":-37,"V":0.9},{"I":-48,"V":-1.2},{"I":-64,"V":-1.7},{"I":-66,"V":-4},{"I":-69,"V":-6},{"I":-71,"V":-10},{"I":-78,"V":-14},{"I":-80,"V":-18},{"I":-76,"V":-19},{"I":-59,"V":-19},{"I":-56,"V":-17},{"I":-50,"V":-11},{"I":-38,"V":-7},{"I":-34,"V":-4.5},{"I":-43,"V":-4.0},{"I":39,"V":-0.7},{"I":42,"V":1.5},
{"I":42,"V":3.1},{"I":30,"V":6},{"I":28,"V":10},{"I":28,"V":15},{"I":34,"V":18.5},{"I":60,"V":20.0},{"I":85,"V":21.0},{"I":104,"V":20.5},{"I":108,"V":16.5},{"I":108,"V":10},{"I":101,"V":6.5},{"I":70,"V":5.5},{"I":68,"V":11},{"I":64,"V":14.5},{"I":61,"V":10},{"I":63,"V":5},{"I":50,"V":3.9},
{"I":42,"V":3.2},{"I":30,"V":6},{"I":28,"V":10},{"I":28,"V":16},{"I":32,"V":19.5},{"I":45,"V":22},{"I":60,"V":23.5},{"I":80,"V":25.5},{"I":95,"V":27.2},{"I":100,"V":27.5},{"I":106,"V":27.0},{"I":109,"V":25},{"I":111,"V":20},{"I":112,"V":14},{"I":110,"V":9},{"I":104,"V":6.5},{"I":80,"V":5.0},{"I":50,"V":4.0},
{"I":45,"V":3.6},{"I":-37,"V":0.3},{"I":-48,"V":-1.6},{"I":-60,"V":-1.7},{"I":-62,"V":-4},{"I":-65,"V":-6},{"I":-67,"V":-10},{"I":-74,"V":-14},{"I":-76,"V":-17},{"I":-72,"V":-18},{"I":-55,"V":-18},{"I":-52,"V":-16},{"I":-48,"V":-11},{"I":-38,"V":-7},{"I":-34,"V":-4.5},{"I":-43,"V":-4.6},{"I":39,"V":-1.3},{"I":42,"V":1.5},
{"I":42,"V":3.4},{"I":38,"V":6},{"I":36,"V":10},{"I":36,"V":12.5},{"I":42,"V":13.5},{"I":60,"V":15.0},{"I":85,"V":16.0},{"I":96,"V":15.5},{"I":100,"V":11.5},{"I":100,"V":10},{"I":93,"V":6.5},{"I":78,"V":5.5},{"I":76,"V":11},{"I":72,"V":14.5},{"I":69,"V":10},{"I":71,"V":5},{"I":50,"V":4.3},
{"I":42,"V":3.2},{"I":32,"V":6},{"I":30,"V":10},{"I":30,"V":15},{"I":36,"V":21.0},{"I":60,"V":22.5},{"I":85,"V":23.5},{"I":107,"V":23.0},{"I":111,"V":19.0},{"I":111,"V":10},{"I":104,"V":6.5},{"I":66,"V":5.5},{"I":64,"V":11},{"I":60,"V":14.5},{"I":57,"V":10},{"I":59,"V":5},{"I":50,"V":4.0},
{"I":45,"V":4.0},{"I":-37,"V":0.7},{"I":-48,"V":-1.4},{"I":-63,"V":-1.7},{"I":-65,"V":-4},{"I":-68,"V":-6},{"I":-70,"V":-10},{"I":-77,"V":-14},{"I":-79,"V":-19},{"I":-75,"V":-20},{"I":-58,"V":-20},{"I":-55,"V":-18},{"I":-44,"V":-11},{"I":-38,"V":-7},{"I":-34,"V":-4.5},{"I":-43,"V":-4.2},{"I":39,"V":-0.9},{"I":42,"V":1.5},
{"I":42,"V":3.0},{"I":34,"V":6},{"I":32,"V":10},{"I":32,"V":15},{"I":38,"V":16.0},{"I":60,"V":17.5},{"I":85,"V":18.5},{"I":101,"V":18.0},{"I":105,"V":14.0},{"I":105,"V":10},{"I":98,"V":6.5},{"I":74,"V":5.5},{"I":72,"V":11},{"I":68,"V":14.5},{"I":65,"V":10},{"I":67,"V":5},{"I":50,"V":3.8},
{"I":42,"V":3.3},{"I":31,"V":6},{"I":29,"V":10},{"I":29,"V":15},{"I":35,"V":19.0},{"I":60,"V":20.5},{"I":85,"V":21.5},{"I":105,"V":21.0},{"I":109,"V":17.0},{"I":109,"V":10},{"I":102,"V":6.5},{"I":69,"V":5.5},{"I":67,"V":11},{"I":63,"V":14.5},{"I":60,"V":10},{"I":62,"V":5},{"I":50,"V":4.1},
{"I":45,"V":3.8},{"I":-37,"V":0.5},{"I":-48,"V":-1.5},{"I":-59,"V":-1.7},{"I":-61,"V":-4},{"I":-64,"V":-6},{"I":-66,"V":-10},{"I":-73,"V":-14},{"I":-75,"V":-16},{"I":-71,"V":-17},{"I":-54,"V":-17},{"I":-51,"V":-15},{"I":-52,"V":-11},{"I":-38,"V":-7},{"I":-34,"V":-4.5},{"I":-43,"V":-4.4},{"I":39,"V":-1.1},{"I":42,"V":1.5},
{"I":42,"V":3.1},{"I":40,"V":6},{"I":38,"V":10},{"I":38,"V":11},{"I":44,"V":12.0},{"I":60,"V":13.5},{"I":85,"V":14.5},{"I":94,"V":14.0},{"I":98,"V":10.5},{"I":98,"V":9},{"I":91,"V":6.5},{"I":80,"V":5.5},{"I":78,"V":11},{"I":74,"V":13.5},{"I":71,"V":10},{"I":73,"V":5},{"I":50,"V":3.9},
{"I":42,"V":3.4},{"I":33,"V":6},{"I":31,"V":10},{"I":31,"V":15},{"I":37,"V":20.0},{"I":60,"V":21.5},{"I":85,"V":22.5},{"I":109,"V":22.0},{"I":113,"V":18.0},{"I":113,"V":10},{"I":106,"V":6.5},{"I":65,"V":5.5},{"I":63,"V":11},{"I":59,"V":14.5},{"I":56,"V":10},{"I":58,"V":5},{"I":50,"V":4.2},
{"I":45,"V":4.1},{"I":-37,"V":0.8},{"I":-48,"V":-1.3},{"I":-61,"V":-1.7},{"I":-63,"V":-4},{"I":-66,"V":-6},{"I":-68,"V":-10},{"I":-75,"V":-14},{"I":-77,"V":-18.5},{"I":-73,"V":-19.5},{"I":-56,"V":-19.5},{"I":-53,"V":-17.5},{"I":-47,"V":-11},{"I":-38,"V":-7},{"I":-34,"V":-4.5},{"I":-43,"V":-4.1},{"I":39,"V":-0.8},{"I":42,"V":1.5},
{"I":42,"V":3.2},{"I":37,"V":6},{"I":35,"V":10},{"I":35,"V":13.5},{"I":41,"V":14.5},{"I":60,"V":16.0},{"I":85,"V":17.0},{"I":98,"V":16.5},{"I":102,"V":12.5},{"I":102,"V":10},{"I":95,"V":6.5},{"I":73,"V":5.5},{"I":71,"V":11},{"I":67,"V":14.5},{"I":64,"V":10},{"I":66,"V":5},{"I":50,"V":4.0},
{"I":42,"V":3.0},{"I":32,"V":6},{"I":30,"V":10},{"I":30,"V":15},{"I":36,"V":18.0},{"I":60,"V":19.5},{"I":85,"V":20.5},{"I":103,"V":20.0},{"I":107,"V":16.0},{"I":107,"V":10},{"I":100,"V":6.5},{"I":67,"V":5.5},{"I":65,"V":11},{"I":61,"V":14.5},{"I":58,"V":10},{"I":60,"V":5},{"I":50,"V":3.8},
{"I":45,"V":3.7},{"I":-37,"V":0.4},{"I":-48,"V":-1.5},{"I":-65,"V":-1.7},{"I":-67,"V":-4},{"I":-70,"V":-6},{"I":-72,"V":-10},{"I":-79,"V":-14},{"I":-81,"V":-17.5},{"I":-77,"V":-18.5},{"I":-60,"V":-18.5},{"I":-57,"V":-16.5},{"I":-49,"V":-11},{"I":-38,"V":-7},{"I":-34,"V":-4.5},{"I":-43,"V":-4.5},{"I":39,"V":-1.2},{"I":42,"V":1.5},
{"I":42,"V":3.3},{"I":35,"V":6},{"I":33,"V":10},{"I":33,"V":15},{"I":39,"V":17.5},{"I":60,"V":19.0},{"I":85,"V":20.0},{"I":100,"V":19.5},{"I":104,"V":15.5},{"I":104,"V":10},{"I":97,"V":6.5},{"I":71,"V":5.5},{"I":69,"V":11},{"I":65,"V":14.5},{"I":62,"V":10},{"I":64,"V":5},{"I":50,"V":4.1},
{"I":42,"V":3.1},{"I":31,"V":6},{"I":29,"V":10},{"I":29,"V":15},{"I":35,"V":20.8},{"I":60,"V":22.3},{"I":85,"V":23.3},{"I":106,"V":22.8},{"I":110,"V":18.8},{"I":110,"V":10},{"I":103,"V":6.5},{"I":63,"V":5.5},{"I":61,"V":11},{"I":57,"V":14.5},{"I":54,"V":10},{"I":56,"V":5},{"I":50,"V":3.9},
{"I":45,"V":3.9},{"I":-37,"V":0.6},{"I":-48,"V":-1.4},{"I":-62,"V":-1.7},{"I":-64,"V":-4},{"I":-67,"V":-6},{"I":-69,"V":-10},{"I":-76,"V":-14},{"I":-78,"V":-15.5},{"I":-74,"V":-16.5},{"I":-57,"V":-16.5},{"I":-54,"V":-14.5},{"I":-53,"V":-11},{"I":-38,"V":-7},{"I":-34,"V":-4.5},{"I":-43,"V":-4.3},{"I":39,"V":-1.0},{"I":42,"V":1.5},
{"I":42,"V":3.4},{"I":39,"V":6},{"I":37,"V":10},{"I":37,"V":15},{"I":43,"V":16.5},{"I":60,"V":18.0},{"I":85,"V":19.0},{"I":97,"V":18.5},{"I":101,"V":14.5},{"I":101,"V":10},{"I":94,"V":6.5},{"I":75,"V":5.5},{"I":73,"V":11},{"I":69,"V":14.5},{"I":66,"V":10},{"I":68,"V":5},{"I":50,"V":4.3}
]
},
"columns": 2,
"spacing": {"row": 85, "column": 99},
"bounds": "flush",
"concat": [
{
  "width": 218, "height": 243,
  "layer": [
    {"data": {"name": "conventional"}, "mark": {"type": "line", "color": "#4472C4", "strokeWidth": 1.2},
     "encoding": {
       "x": {"field": "I", "type": "quantitative", "scale": {"domain": [0, 400], "nice": false}, "axis": {"values": [0, 100, 200, 300, 400], "title": "Current (A)", "grid": false}},
       "y": {"field": "V", "type": "quantitative", "scale": {"domain": [0, 40], "nice": false}, "axis": {"values": [0, 10, 20, 30, 40], "title": "Voltage (V)", "grid": true}},
       "order": {"value": null}}},
    {"data": {"values": [{}]}, "mark": {"type": "rect", "fill": "white", "stroke": "black", "strokeWidth": 1},
     "encoding": {"x": {"datum": 40}, "x2": {"datum": 431}, "y": {"datum": 37.9}, "y2": {"datum": 42.5}}},
    {"data": {"values": [{}]}, "mark": {"type": "text", "font": "Liberation Sans", "fontSize": 19.5, "color": "black", "align": "center", "baseline": "middle"},
     "encoding": {"x": {"datum": 235.5}, "y": {"datum": 40.2}, "text": {"value": "Conventional"}}}
  ]
},
{
  "width": 220, "height": 243,
  "layer": [
    {"data": {"name": "cmt"}, "mark": {"type": "line", "color": "#4472C4", "strokeWidth": 1.6},
     "encoding": {
       "x": {"field": "I", "type": "quantitative", "scale": {"domain": [0, 400], "nice": false}, "axis": {"values": [0, 100, 200, 300, 400], "title": "Current (A)", "grid": false}},
       "y": {"field": "V", "type": "quantitative", "scale": {"domain": [0, 40], "nice": false}, "axis": {"values": [0, 10, 20, 30, 40], "title": "Voltage (V)", "grid": true}},
       "order": {"value": null}}},
    {"data": {"values": [{}]}, "mark": {"type": "rect", "fill": "white", "stroke": "black", "strokeWidth": 1},
     "encoding": {"x": {"datum": 42}, "x2": {"datum": 429}, "y": {"datum": 37.9}, "y2": {"datum": 42.5}}},
    {"data": {"values": [{}]}, "mark": {"type": "text", "font": "Liberation Sans", "fontSize": 19.5, "color": "black", "align": "center", "baseline": "middle"},
     "encoding": {"x": {"datum": 235.5}, "y": {"datum": 40.2}, "text": {"value": "CMT"}}}
  ]
},
{
  "width": 218, "height": 243,
  "layer": [
    {"data": {"name": "pulse"}, "mark": {"type": "line", "color": "#4472C4", "strokeWidth": 1.6},
     "encoding": {
       "x": {"field": "I", "type": "quantitative", "scale": {"domain": [0, 400], "nice": false}, "axis": {"values": [0, 100, 200, 300, 400], "title": "Current (A)", "grid": false}},
       "y": {"field": "V", "type": "quantitative", "scale": {"domain": [0, 40], "nice": false}, "axis": {"values": [0, 10, 20, 30, 40], "title": "Voltage (V)", "grid": true}},
       "order": {"value": null}}},
    {"data": {"values": [{}]}, "mark": {"type": "rect", "fill": "white", "stroke": "black", "strokeWidth": 1},
     "encoding": {"x": {"datum": 40}, "x2": {"datum": 431}, "y": {"datum": 38.2}, "y2": {"datum": 43.0}}},
    {"data": {"values": [{}]}, "mark": {"type": "text", "font": "Liberation Sans", "fontSize": 19.5, "color": "black", "align": "center", "baseline": "middle"},
     "encoding": {"x": {"datum": 235.5}, "y": {"datum": 40.6}, "text": {"value": "CMT Pulse"}}}
  ]
},
{
  "width": 220, "height": 243,
  "resolve": {"axis": {"x": "independent", "y": "independent"}},
  "layer": [
    {"data": {"name": "advanced"}, "mark": {"type": "line", "color": "#4472C4", "strokeWidth": 1.3},
     "encoding": {
       "x": {"field": "I", "type": "quantitative", "scale": {"domain": [-200, 200], "nice": false}, "axis": {"values": [-200, -100, 0, 100, 200], "title": "Current (A)", "grid": true, "tickSize": 2, "labelPadding": 8.5, "labelExpr": "'' + datum.value"}},
       "y": {"field": "V", "type": "quantitative", "scale": {"domain": [-40, 40], "nice": false}, "axis": {"values": [-40, -20, 0, 20, 40], "title": "Voltage (V)", "grid": true, "tickSize": 2, "labelPadding": 16, "titleX": -34, "labelExpr": "'' + datum.value"}},
       "order": {"value": null}}},
    {"data": {"values": [{}]}, "mark": {"type": "rule", "opacity": 0},
     "encoding": {
       "x": {"datum": 0, "axis": {"orient": "bottom", "offset": -121.5, "values": [-200, -100, 0, 100, 200], "labels": false, "title": null, "grid": false, "domainWidth": 1.5, "tickSize": 6, "zindex": 0}},
       "y": {"datum": 0, "axis": {"orient": "left", "offset": -110, "values": [-40, -20, 0, 20, 40], "labels": false, "title": null, "grid": false, "domainWidth": 1.5, "tickSize": 6, "zindex": 0}}}},
    {"data": {"values": [{}]}, "mark": {"type": "rect", "fill": "white", "stroke": "black", "strokeWidth": 1},
     "encoding": {"x": {"datum": -158, "axis": null}, "x2": {"datum": 229}, "y": {"datum": 37.4, "axis": null}, "y2": {"datum": 46.9}}},
    {"data": {"values": [{}]}, "mark": {"type": "text", "font": "Liberation Sans", "fontSize": 19.5, "color": "black", "align": "center", "baseline": "middle"},
     "encoding": {"x": {"datum": 37.3, "axis": null}, "y": {"datum": 42.1, "axis": null}, "text": {"value": "CMT Advanced"}}}
  ]
}
]
}
